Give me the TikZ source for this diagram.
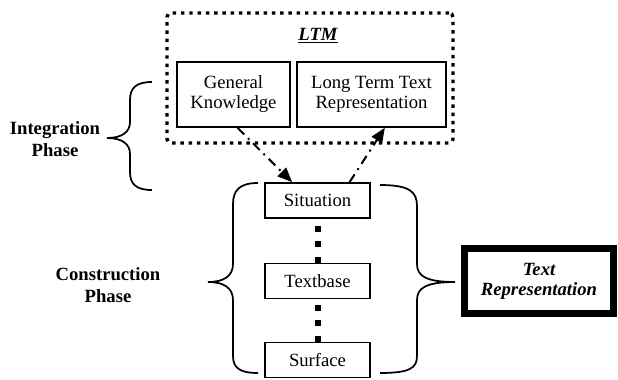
\documentclass[tikz,border=0pt]{standalone}
\usepackage{fontspec}
\setmainfont{Liberation Serif}
\usepackage{tikz}
\usetikzlibrary{arrows.meta,positioning}

\begin{document}
\begin{tikzpicture}[x=0.75pt,y=-0.75pt,
		level/.style={rectangle,draw,line width=1.2pt,fill=white,minimum width=78.75pt,minimum height=26.25pt,inner sep=0pt,font=\fontsize{14}{15}\selectfont},
		mem/.style={rectangle,draw,line width=1.2pt,fill=white,minimum height=48.75pt,inner sep=0pt,align=center,font=\fontsize{14}{15}\selectfont},
		phase/.style={align=center,font=\fontsize{14}{16.5}\selectfont\bfseries},
		brace/.style={line width=1.3pt},
		flow/.style={line width=1.5pt,dash pattern=on 7pt off 4pt on 1.5pt off 4pt,-{Triangle[length=11pt,width=9pt]}},
		link/.style={line width=4.5pt,dash pattern=on 4.5pt off 7.1pt}]
	\useasboundingbox (0,0) rectangle (618,379);

	% long term memory
	\node[draw,line width=2.6pt,dash pattern=on 2.6pt off 3.6pt,rounded corners=3pt,minimum width=214.5pt,minimum height=97.5pt] (ltm) at (310,78) {};
	\node[font=\fontsize{14}{16}\selectfont\bfseries\itshape] (ltmlbl) at (318,36) {\underline{LTM}};
	\node[mem,minimum width=84.75pt] (gk)   at (233.5,94.5) {General\\Knowledge};
	\node[mem,minimum width=111.75pt] (lttr) at (371.5,94.5) {Long Term Text\\Representation};

	% levels
	\node[level] (sit)  at (317.5,200.5) {Situation};
	\node[level] (tb)   at (317.5,281)   {Textbase};
	\node[level] (surf) at (317.5,360)   {Surface};

	\draw[link] (tb.north) -- (sit.south);
	\draw[link] (surf.north) -- (tb.south);

	\draw[flow] ([xshift=3pt]gk.south) -- ([xshift=-19pt]sit.north);
	\draw[flow] ([xshift=24pt]sit.north) -- ([xshift=10pt]lttr.south);

	% result
	\node[rectangle,draw,line width=5pt,minimum width=111.75pt,minimum height=48.75pt,inner sep=0pt,align=center,font=\fontsize{14}{15}\selectfont\bfseries\itshape] (trep) at (539,281) {Text\\Representation};

	% braces
	\draw[brace] (152,82) .. controls (136,82) and (130,88) .. (130,100) -- (130,122) .. controls (130,132) and (122,138) .. (107,138) .. controls (122,138) and (130,144) .. (130,154) -- (130,172) .. controls (130,184) and (136,190) .. (152,190);
	\draw[brace] (258,183) .. controls (240,183) and (233,190) .. (233,204) -- (233,264) .. controls (233,276) and (224,282) .. (208,282) .. controls (224,282) and (233,288) .. (233,300) -- (233,356) .. controls (233,368) and (240,373) .. (258,373);
	\draw[brace] (380,185) .. controls (410,185) and (417,192) .. (417,206) -- (417,264) .. controls (417,276) and (426,282) .. (455,282) .. controls (426,282) and (417,288) .. (417,300) -- (417,356) .. controls (417,368) and (410,373) .. (380,373);

	% phases
	\node[phase] (integ) at (55,139) {Integration\\Phase};
	\node[phase] (constr) at (108,285) {Construction\\Phase};
\end{tikzpicture}
\end{document}
